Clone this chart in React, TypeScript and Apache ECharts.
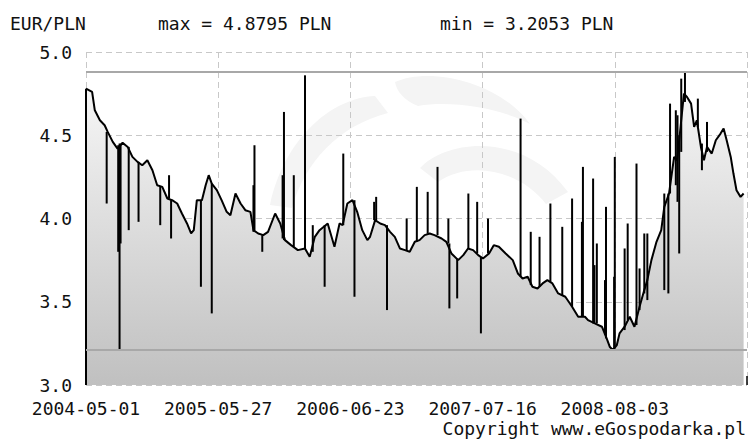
import React, { useEffect, useRef } from "react";
import * as echarts from "echarts";

// ---- data (x = days since 2004-05-01) ----
const TICK_LABELS = ["2004-05-01", "2005-05-27", "2006-06-23", "2007-07-16", "2008-08-03"];
const TICK_STEP = 390;
const X_MAX = 1950;
const Y_MIN = 3.0;
const Y_MAX = 5.0;
const MAX_RATE = 4.8795;
const MIN_RATE = 3.2053;

const DAYS = [0, 18, 26, 41, 55, 64, 79, 93, 108, 123, 137, 152, 166, 181, 196, 210, 225, 240, 254, 269, 283, 298, 310, 318, 327, 342, 353, 362, 371, 386, 400, 415, 426, 441, 456, 470, 485, 494, 508, 523, 537, 558, 573, 587, 605, 625, 646, 660, 675, 689, 707, 713, 733, 748, 757, 771, 786, 800, 815, 830, 838, 853, 868, 882, 897, 911, 926, 941, 955, 970, 984, 999, 1014, 1028, 1049, 1063, 1078, 1098, 1113, 1127, 1142, 1157, 1171, 1189, 1203, 1218, 1238, 1259, 1274, 1288, 1303, 1317, 1332, 1347, 1361, 1376, 1393, 1414, 1434, 1452, 1472, 1481, 1501, 1522, 1536, 1545, 1554, 1566, 1574, 1589, 1604, 1618, 1633, 1647, 1656, 1668, 1683, 1697, 1706, 1720, 1735, 1744, 1756, 1764, 1773, 1785, 1794, 1802, 1814, 1823, 1832, 1846, 1858, 1872, 1881, 1890, 1902, 1910, 1919, 1931, 1940];
const RATES = [4.78, 4.76, 4.65, 4.59, 4.56, 4.52, 4.46, 4.42, 4.455, 4.43, 4.37, 4.34, 4.32, 4.35, 4.29, 4.2, 4.19, 4.12, 4.11, 4.09, 4.03, 3.97, 3.91, 3.93, 4.11, 4.11, 4.2, 4.26, 4.21, 4.17, 4.11, 4.04, 4.02, 4.15, 4.09, 4.05, 4.04, 3.93, 3.91, 3.9, 3.92, 4.03, 3.97, 3.87, 3.84, 3.81, 3.82, 3.77, 3.89, 3.93, 3.96, 3.97, 3.83, 3.97, 3.96, 4.09, 4.11, 4.04, 3.93, 3.87, 3.89, 3.99, 3.97, 3.96, 3.92, 3.89, 3.82, 3.81, 3.8, 3.86, 3.87, 3.9, 3.91, 3.9, 3.88, 3.86, 3.79, 3.75, 3.78, 3.82, 3.81, 3.78, 3.76, 3.79, 3.84, 3.83, 3.79, 3.75, 3.67, 3.64, 3.65, 3.59, 3.58, 3.61, 3.63, 3.61, 3.55, 3.53, 3.47, 3.41, 3.41, 3.39, 3.37, 3.35, 3.28, 3.23, 3.21, 3.24, 3.31, 3.35, 3.41, 3.35, 3.47, 3.57, 3.63, 3.75, 3.86, 3.93, 4.07, 4.15, 4.37, 4.35, 4.59, 4.75, 4.73, 4.69, 4.55, 4.59, 4.43, 4.35, 4.43, 4.39, 4.47, 4.51, 4.54, 4.47, 4.37, 4.27, 4.17, 4.13, 4.15];

// single-day glitches (day, low, high)
const SPIKE_DAYS = [61, 95, 99, 102, 126, 155, 219, 245, 251, 339, 371, 494, 497, 520, 580, 584, 613, 646, 669, 704, 759, 792, 850, 856, 888, 946, 976, 1008, 1037, 1069, 1072, 1095, 1128, 1154, 1165, 1186, 1282, 1312, 1338, 1370, 1405, 1434, 1463, 1466, 1496, 1500, 1507, 1531, 1534, 1558, 1560, 1589, 1598, 1624, 1633, 1647, 1656, 1706, 1718, 1723, 1740, 1745, 1750, 1756, 1767, 1805, 1817, 1832];
const SPIKE_LOW = [4.09, 3.8, 3.21, 3.85, 3.93, 3.98, 3.96, 4.12, 3.88, 3.59, 3.43, 3.92, 3.93, 3.8, 3.88, 3.87, 3.83, 3.82, 3.8, 3.59, 3.96, 3.53, 3.99, 3.99, 3.45, 3.81, 3.86, 3.91, 3.9, 3.85, 3.46, 3.52, 3.82, 3.79, 3.31, 3.79, 3.65, 3.6, 3.59, 3.62, 3.54, 3.47, 3.41, 3.41, 3.37, 3.37, 3.37, 3.3, 3.28, 3.21, 3.22, 3.33, 3.39, 3.36, 3.45, 3.55, 3.51, 3.57, 3.55, 4.15, 4.2, 4.1, 3.79, 4.4, 4.7, 4.55, 4.29, 4.4];
const SPIKE_HIGH = [4.52, 4.44, 4.45, 4.45, 4.43, 4.34, 4.19, 4.26, 4.11, 4.11, 4.21, 4.2, 4.44, 3.9, 4.26, 4.64, 4.26, 4.86, 3.96, 3.96, 4.39, 4.11, 4.1, 4.13, 3.96, 4.0, 4.19, 4.16, 4.31, 4.0, 3.85, 3.76, 4.15, 4.1, 3.77, 4.0, 4.6, 3.92, 3.89, 4.09, 3.95, 4.12, 3.98, 4.31, 4.24, 3.72, 3.85, 3.63, 4.07, 3.65, 4.37, 3.82, 3.97, 4.33, 3.7, 3.91, 3.91, 4.15, 4.15, 4.69, 4.65, 4.62, 4.5, 4.84, 4.88, 4.72, 4.45, 4.58];

const TITLE = "EUR/PLN";
const COPYRIGHT = "Copyright www.eGospodarka.pl";

const FONT = "'DejaVu Sans Mono', 'Liberation Mono', monospace";

try {
  echarts.graphic.registerShape(
    "wmA",
    echarts.graphic.extendPath(
      "M 395 82 C 430 66, 500 82, 530 124 C 500 108, 452 100, 418 106 C 404 100, 397 92, 395 82 Z",
      {}
    )
  );
  echarts.graphic.registerShape(
    "wmB",
    echarts.graphic.extendPath(
      "M 375 96 C 330 98, 284 140, 270 205 L 292 208 C 305 162, 338 126, 388 113 Z",
      {}
    )
  );
  echarts.graphic.registerShape(
    "wmC",
    echarts.graphic.extendPath(
      "M 420 168 C 448 138, 525 132, 568 192 L 546 204 C 520 170, 470 160, 438 182 Z",
      {}
    )
  );
} catch (e) {}

export default function App() {
  const ref = useRef<HTMLDivElement>(null);
  useEffect(() => {
    if (!ref.current) return;
    const chart = echarts.init(ref.current, undefined, { renderer: "svg" });
    const lineData = DAYS.map((d, i) => [d, RATES[i]]);
    const spikeData = SPIKE_DAYS.map((d, i) => [d, SPIKE_LOW[i], SPIKE_HIGH[i]]);
    spikeData.push([DAYS[0], Y_MIN, RATES[0]]);
    const wmStyle = { fill: "#f4f4f4" };
    const txt = (text: string) => ({ text, font: `18px ${FONT}`, fill: "#111", lineHeight: 14 });
    chart.setOption({
      animation: false,
      backgroundColor: "#ffffff",
      grid: { left: 86, top: 52, width: 667.5, height: 333 },
      graphic: [
        { type: "wmA", x: 0, y: 0, z: -10, silent: true, style: wmStyle },
        { type: "wmB", x: 0, y: 0, z: -10, silent: true, style: wmStyle },
        { type: "wmC", x: 0, y: 0, z: -10, silent: true, style: wmStyle },
        { type: "text", left: 10, top: 14, style: txt(TITLE) },
        { type: "text", left: 158, top: 14, style: txt(`max = ${MAX_RATE.toFixed(4)} PLN`) },
        { type: "text", left: 440, top: 14, style: txt(`min = ${MIN_RATE.toFixed(4)} PLN`) },
        { type: "text", right: 4, top: 419, style: txt(COPYRIGHT) },
      ],
      xAxis: {
        type: "value",
        min: 0,
        max: X_MAX,
        interval: TICK_STEP,
        axisLine: { show: false },
        axisTick: { show: true, inside: true, length: 9, lineStyle: { color: "#000", width: 1.5 } },
        axisLabel: {
          margin: 16,
          color: "#111",
          fontFamily: FONT,
          fontSize: 18,
          lineHeight: 14,
          formatter: (v: number) => TICK_LABELS[Math.round(v / TICK_STEP)] ?? "",
        },
        splitLine: { show: true, lineStyle: { color: "#c8c8c8", type: [6, 4], width: 1 } },
      },
      yAxis: {
        type: "value",
        min: Y_MIN,
        max: Y_MAX,
        interval: 0.5,
        axisLine: { show: false },
        axisTick: { show: false },
        axisLabel: {
          margin: 14,
          color: "#111",
          fontFamily: FONT,
          fontSize: 18,
          formatter: (v: number) => v.toFixed(1),
        },
        splitLine: { show: true, lineStyle: { color: "#c8c8c8", type: [6, 4], width: 1 } },
      },
      series: [
        {
          type: "line",
          data: lineData,
          showSymbol: false,
          symbol: "none",
          lineStyle: { color: "#000", width: 2 },
          areaStyle: {
            opacity: 1,
            color: new echarts.graphic.LinearGradient(0, 0, 0, 1, [
              { offset: 0, color: "#f6f6f6" },
              { offset: 1, color: "#c0c0c0" },
            ]),
          },
          markLine: {
            silent: true,
            symbol: ["none", "none"],
            label: { show: false },
            lineStyle: { color: "#a8a8a8", type: "solid", width: 2 },
            data: [{ yAxis: MAX_RATE }, { yAxis: MIN_RATE }],
          },
          z: 2,
        },
        {
          type: "custom",
          data: spikeData,
          encode: { x: 0, y: [1, 2] },
          renderItem: (params: any, api: any) => {
            const p1 = api.coord([api.value(0), api.value(1)]);
            const p2 = api.coord([api.value(0), api.value(2)]);
            return {
              type: "line",
              shape: { x1: p1[0], y1: p1[1], x2: p2[0], y2: p2[1] },
              style: { stroke: "#000", lineWidth: 2 },
            };
          },
          z: 3,
        },
      ],
    });
    return () => chart.dispose();
  }, []);
  return (
    <div
      ref={ref}
      style={{ position: "absolute", left: 0, top: 0, width: 750, height: 440 }}
    />
  );
}
